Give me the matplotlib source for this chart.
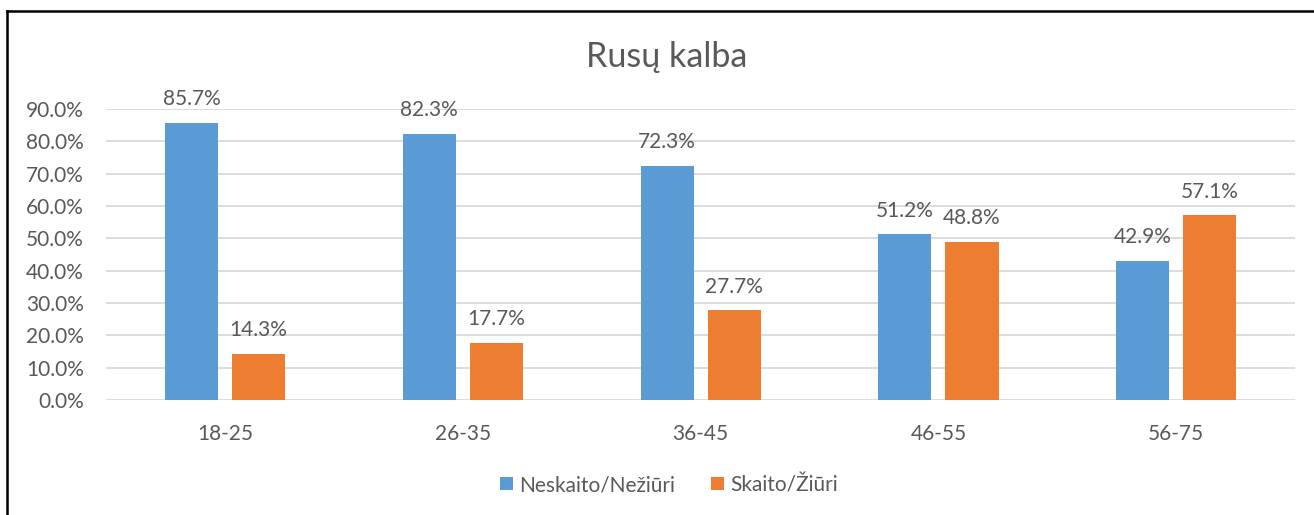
import numpy as np
import matplotlib.pyplot as plt
from matplotlib.lines import Line2D

# duomenys
categories = ['18-25', '26-35', '36-45', '46-55', '56-75']
neskaito = [85.7, 82.3, 72.3, 51.2, 42.9]
skaito = [14.3, 17.7, 27.7, 48.8, 57.1]
series_names = ['Neskaito/Nežiūri', 'Skaito/Žiūri']

blue = '#5B9BD5'
orange = '#ED7D31'
txt = '#595959'

plt.rcParams['font.family'] = ['Lato', 'DejaVu Sans']

fig = plt.figure(figsize=(13.14, 5.15), dpi=100)
ax = fig.add_axes([0.0807, 0.2233, 0.905, 0.565])

x = np.arange(len(categories))
w = 0.223
off = 0.141
b1 = ax.bar(x - off, neskaito, w, color=blue, label=series_names[0], zorder=3)
b2 = ax.bar(x + off, skaito, w, color=orange, label=series_names[1], zorder=3)

for bars, vals in ((b1, neskaito), (b2, skaito)):
    for r, v in zip(bars, vals):
        ax.annotate(f'{v:.1f}%', (r.get_x() + r.get_width() / 2, v),
                    xytext=(0, 10), textcoords='offset points',
                    ha='center', va='bottom', fontsize=15, color=txt)

ax.set_xlim(-0.5, len(categories) - 0.5)
ax.set_ylim(0, 90)
ax.set_yticks(np.arange(0, 91, 10))
ax.set_yticklabels([f'{t:.1f}%' for t in np.arange(0, 91, 10)])
ax.set_xticks(x)
ax.set_xticklabels(categories)
ax.tick_params(axis='y', length=0, pad=16, labelsize=15, labelcolor=txt)
ax.tick_params(axis='x', length=0, pad=17, labelsize=15, labelcolor=txt)
ax.grid(axis='y', color='#D9D9D9', linewidth=1.3, zorder=0)
for s in ax.spines.values():
    s.set_visible(False)

fig.text(0.507, 0.889, 'Rusų kalba', fontsize=24.5, color=txt,
         ha='center', va='center')

fig.legend(handles=[b1, b2], labels=series_names, loc='center',
           bbox_to_anchor=(0.509, 0.058), ncol=2, frameon=False,
           fontsize=15, labelcolor=txt, handlelength=0.6, handleheight=0.6,
           handletextpad=0.3, columnspacing=1.75)

# rėmelis
fig.add_artist(Line2D([0.0053, 1.0], [0.9777, 0.9777], color='black', lw=1.8,
                      transform=fig.transFigure))
fig.add_artist(Line2D([0.0053, 0.0053], [0.0, 0.9777], color='black', lw=1.8,
                      transform=fig.transFigure))

fig.savefig('out.png', dpi=100)
